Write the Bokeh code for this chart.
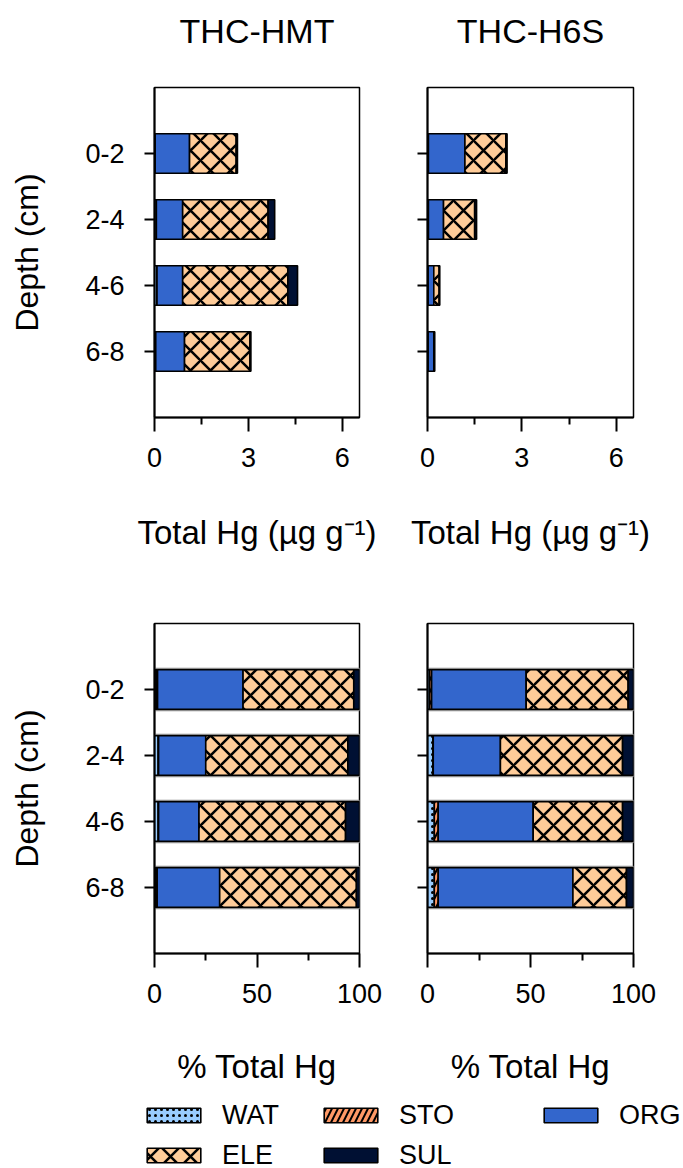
from bokeh.plotting import figure
from bokeh.models import Range1d, FixedTicker, ColumnDataSource, Legend, LegendItem, LinearAxis
from bokeh.layouts import column, row
from bokeh.embed import file_html
from bokeh.resources import INLINE

# ---------------- data ----------------
depths = ["0-2", "2-4", "4-6", "6-8"]
depth_pos = [1, 2, 3, 4]
components = ["WAT", "STO", "ORG", "ELE", "SUL"]
sites = ["THC-HMT", "THC-H6S"]

# absolute concentrations (ug/g)
hmt_abs_wat = [0.01, 0.06, 0.08, 0.02]
hmt_abs_sto = [0.01, 0.00, 0.00, 0.02]
hmt_abs_org = [1.10, 0.84, 0.82, 0.92]
hmt_abs_ele = [1.49, 2.73, 3.36, 2.09]
hmt_abs_sul = [0.04, 0.21, 0.31, 0.03]

h6s_abs_wat = [0.02, 0.03, 0.01, 0.01]
h6s_abs_sto = [0.01, 0.00, 0.01, 0.01]
h6s_abs_org = [1.16, 0.48, 0.18, 0.18]
h6s_abs_ele = [1.30, 0.99, 0.17, 0.01]
h6s_abs_sul = [0.04, 0.06, 0.02, 0.02]

# percent of total Hg
hmt_pct_wat = [0.8, 1.8, 1.8, 0.5]
hmt_pct_sto = [0.7, 0.2, 0.2, 0.8]
hmt_pct_org = [41.7, 23.0, 19.7, 30.5]
hmt_pct_ele = [54.0, 69.3, 71.5, 66.7]
hmt_pct_sul = [2.8, 5.7, 6.8, 1.5]

h6s_pct_wat = [1.0, 2.6, 3.3, 3.3]
h6s_pct_sto = [1.0, 0.2, 1.9, 1.9]
h6s_pct_org = [45.9, 32.6, 46.1, 65.4]
h6s_pct_ele = [49.5, 59.3, 43.4, 26.0]
h6s_pct_sul = [2.6, 5.3, 5.3, 3.4]

abs_ticks = [0, 3, 6]
abs_minor = [1.5, 4.5]
pct_ticks = [0, 50, 100]
pct_minor = [25, 75]

# ---------------- style ----------------
FONT = "Liberation Sans"
fill_colors = ["#99CCFF", "#FF9966", "#3366CC", "#FFCC99", "#001033"]
hatch_patterns = [".", "/", " ", "x", " "]
hatch_scales = [6, 12, 12, 20, 12]
hatch_weights = [1.5, 2, 1, 2.5, 1]


def make_source(wat, sto, org, ele, sul):
    return ColumnDataSource(dict(pos=depth_pos, WAT=wat, STO=sto, ORG=org, ELE=ele, SUL=sul,
                                 total=[a + b + c + d + e for a, b, c, d, e in zip(wat, sto, org, ele, sul)]))


def make_panel(src, width, height, bl, br, bt, bb, xmax, ticks, minor, xlabel,
               title=None, show_ylabels=True, band=False, xlab_standoff=44):
    p = figure(width=width, height=height, output_backend="svg", toolbar_location=None,
               x_range=Range1d(0, xmax), y_range=Range1d(5, 0),
               min_border_left=bl, min_border_right=br, min_border_top=bt, min_border_bottom=bb)
    p.xgrid.visible = False
    p.ygrid.visible = False
    p.outline_line_color = "black"
    p.outline_line_width = 1.5
    p.background_fill_color = "white"
    p.border_fill_color = "white"
    if band:
        p.hbar(y="pos", left=0, right="total", height=0.64, source=src,
               fill_color="white", line_color="#8c8c8c", line_width=1.5)
    p.hbar_stack(components, y="pos", height=0.6, source=src,
                 fill_color=fill_colors, line_color="black", line_width=1.6,
                 hatch_pattern=hatch_patterns, hatch_color="black",
                 hatch_scale=hatch_scales, hatch_weight=hatch_weights)
    # x axis
    xa = p.xaxis[0]
    xa.ticker = FixedTicker(ticks=ticks, minor_ticks=minor)
    xa.axis_line_width = 2
    xa.major_tick_line_width = 2
    xa.minor_tick_line_width = 2
    xa.major_tick_in = 0
    xa.major_tick_out = 14
    xa.minor_tick_in = 0
    xa.minor_tick_out = 7
    xa.major_label_text_font = FONT
    xa.major_label_text_font_size = "27px"
    xa.major_label_text_color = "black"
    xa.major_label_standoff = 16
    xa.axis_label = xlabel
    xa.axis_label_text_font = FONT
    xa.axis_label_text_font_size = "33px"
    xa.axis_label_text_font_style = "normal"
    xa.axis_label_text_color = "black"
    xa.axis_label_standoff = xlab_standoff
    # y axis
    ya = p.yaxis[0]
    ya.ticker = FixedTicker(ticks=depth_pos, minor_ticks=[])
    ya.axis_line_width = 2
    ya.major_tick_line_width = 2
    ya.major_tick_in = 0
    ya.major_tick_out = 10
    ya.minor_tick_out = 0
    ya.minor_tick_in = 0
    ya.major_label_text_font = FONT
    ya.major_label_text_color = "black"
    ya.major_label_text_font_size = "27px"
    if show_ylabels:
        ya.major_label_overrides = {k: v for k, v in zip(depth_pos, depths)}
        ya.major_label_standoff = 20
        ya.axis_label = "Depth (cm)"
        ya.axis_label_text_font = FONT
        ya.axis_label_text_font_size = "32px"
        ya.axis_label_text_font_style = "normal"
        ya.axis_label_text_color = "black"
        ya.axis_label_standoff = 37
    else:
        ya.major_label_overrides = {k: "" for k in depth_pos}
        ya.major_label_standoff = 0
    if title:
        # panel title carried by a bare axis above the frame
        ta = LinearAxis(ticker=FixedTicker(ticks=[], minor_ticks=[]),
                        axis_line_color=None, major_tick_line_color=None,
                        minor_tick_line_color=None, major_tick_out=0, major_tick_in=0,
                        minor_tick_out=0, minor_tick_in=0, major_label_standoff=0,
                        axis_label=title, axis_label_standoff=38,
                        axis_label_text_font=FONT, axis_label_text_font_size="34px",
                        axis_label_text_font_style="normal", axis_label_text_color="black")
        p.add_layout(ta, "above")
    return p


xlab_abs = "Total Hg (µg g⁻¹)"
xlab_pct = "% Total Hg"

tl = make_panel(make_source(hmt_abs_wat, hmt_abs_sto, hmt_abs_org, hmt_abs_ele, hmt_abs_sul),
                393, 565, 154, 34, 87, 148, 6.55, abs_ticks, abs_minor, xlab_abs, title=sites[0])
tr = make_panel(make_source(h6s_abs_wat, h6s_abs_sto, h6s_abs_org, h6s_abs_ele, h6s_abs_sul),
                290, 565, 34, 50, 87, 148, 6.55, abs_ticks, abs_minor, xlab_abs, title=sites[1],
                show_ylabels=False)
bl = make_panel(make_source(hmt_pct_wat, hmt_pct_sto, hmt_pct_org, hmt_pct_ele, hmt_pct_sul),
                393, 533, 154, 34, 58, 145, 100, pct_ticks, pct_minor, xlab_pct, band=True,
                xlab_standoff=42)
br = make_panel(make_source(h6s_pct_wat, h6s_pct_sto, h6s_pct_org, h6s_pct_ele, h6s_pct_sul),
                290, 533, 34, 50, 58, 145, 100, pct_ticks, pct_minor, xlab_pct, band=True,
                show_ylabels=False, xlab_standoff=42)

# ---------------- legend figure ----------------
lf = figure(width=683, height=70, output_backend="svg", toolbar_location=None,
            x_range=Range1d(0, 1), y_range=Range1d(0, 1),
            min_border_left=0, min_border_right=0, min_border_top=0, min_border_bottom=0)
lf.axis.visible = False
lf.xgrid.visible = False
lf.ygrid.visible = False
lf.outline_line_color = None

nan = float("nan")
rends = {}
for name, fc, hp, hs, hw in zip(components, fill_colors, hatch_patterns, hatch_scales, hatch_weights):
    rends[name] = lf.rect(x=[nan], y=[nan], width=[nan], height=[nan], fill_color=fc, line_color="black",
                          line_width=1.6, hatch_pattern=hp, hatch_color="black",
                          hatch_scale=hs, hatch_weight=hw)


def make_legend(names, loc):
    lg = Legend(items=[LegendItem(label=n, renderers=[rends[n]], index=0) for n in names],
                location=loc, orientation="vertical",
                glyph_width=67, glyph_height=18, label_standoff=15, spacing=8,
                padding=0, margin=0, border_line_color=None, background_fill_alpha=0,
                label_text_font=FONT, label_text_font_size="27px", label_text_color="black",
                label_height=32)
    lf.add_layout(lg)


make_legend(["WAT", "ELE"], (140, -3))
make_legend(["STO", "SUL"], (317, -3))
make_legend(["ORG"], (537, 37))

layout = column(row(tl, tr), row(bl, br), lf)
open("out.html", "w").write(file_html(layout, INLINE))
